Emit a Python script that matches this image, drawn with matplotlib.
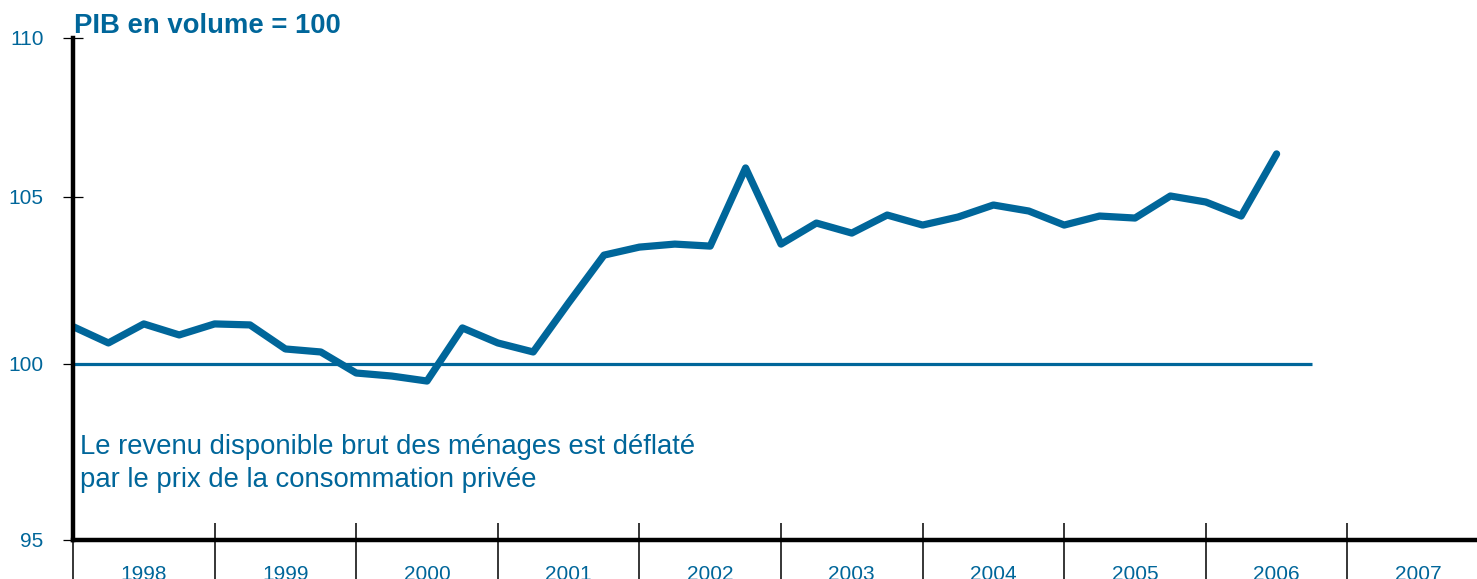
import matplotlib
matplotlib.use("Agg")
from matplotlib import pyplot as plt

plt.rcParams['font.family'] = ['Liberation Sans', 'DejaVu Sans']

blue = '#00669a'

years = list(range(1998, 2008))

# revenu disponible brut des ménages (déflaté), PIB en volume = 100, trimestriel
revenu = [101.12, 100.63, 101.20, 100.87,
          101.20, 101.17, 100.45, 100.36,
          99.73, 99.64, 99.49, 101.08,
          100.63, 100.36, 101.83, 103.26,
          103.50, 103.59, 103.53, 105.87,
          103.59, 104.22, 103.92, 104.46,
          104.16, 104.40, 104.76, 104.58,
          104.16, 104.43, 104.37, 105.03,
          104.85, 104.43, 106.29]
quarters = [1998 + i / 4 for i in range(len(revenu))]

fig = plt.figure(figsize=(14.77, 5.79), dpi=100)
ax = fig.add_axes([73 / 1477, 1 - 540 / 579, 1 - 73 / 1477, (540 - 38) / 579])

ax.hlines(100, 1998, 2006.75, color=blue, linewidth=2.3)
ax.plot(quarters, revenu, color=blue, linewidth=5.2, solid_joinstyle='round',
        solid_capstyle='round')

ax.set_xlim(1998, 1998 + (1477 - 73) / 141.6)
ax.set_ylim(100 - 176 / 33.4, 100 + 326 / 33.4)

ax.spines['top'].set_visible(False)
ax.spines['right'].set_visible(False)
ax.spines['left'].set_linewidth(3.2)
ax.spines['bottom'].set_linewidth(3.2)

# y axis
lo, hi = ax.get_ylim()
ax.set_yticks([lo, 100, 105, hi])
ax.set_yticklabels(['95', '100', '105', '110'])
ax.tick_params(axis='y', direction='inout', length=14.5, width=0.9,
               pad=14, labelsize=15, labelcolor=blue)

# x axis: year separators + centered labels
ax.set_xticks([y + 0.5 for y in years])
ax.set_xticklabels([str(y) for y in years])
ax.tick_params(axis='x', length=0, pad=18, labelsize=15, labelcolor=blue)
ax.vlines(years, -39 / 502, 17 / 502, transform=ax.get_xaxis_transform(),
          color='black', linewidth=1.1, clip_on=False)

fig.text(74 / 1477, 1 - 33 / 579, 'PIB en volume = 100', fontsize=19.8,
         fontweight='bold', color=blue, ha='left', va='baseline')

fig.text(80 / 1477, 1 - 487 / 579,
         'Le revenu disponible brut des ménages est déflaté\npar le prix de la consommation privée',
         fontsize=19.8, color=blue, ha='left', va='baseline', linespacing=1.36)

plt.savefig('out.png')
